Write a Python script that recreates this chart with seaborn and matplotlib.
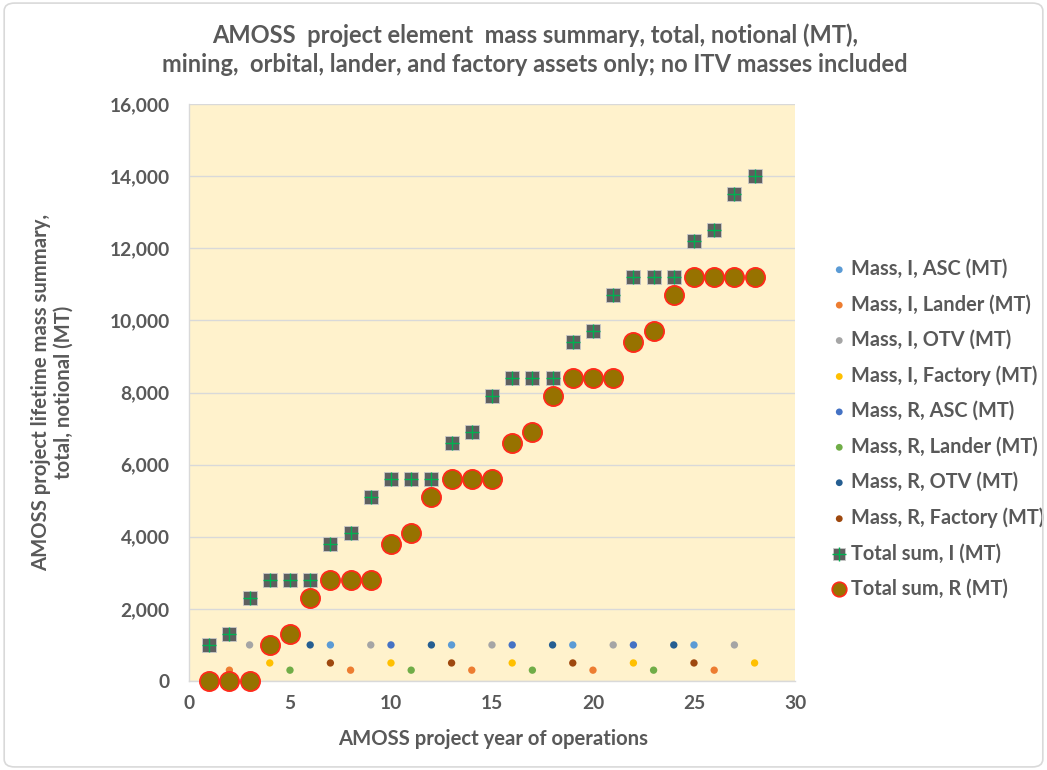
import matplotlib
matplotlib.use("Agg")
import matplotlib.pyplot as plt
import seaborn as sns
from matplotlib.patches import FancyBboxPatch
from matplotlib.ticker import FuncFormatter, MultipleLocator

# ------------------------------------------
# data
# ------------------------------------------
years = list(range(1, 29))

asc_i_x = [1, 7, 13, 19, 25]
asc_i_y = [1000, 1000, 1000, 1000, 1000]
lander_i_x = [2, 8, 14, 20, 26]
lander_i_y = [300, 300, 300, 300, 300]
otv_i_x = [3, 9, 15, 21, 27]
otv_i_y = [1000, 1000, 1000, 1000, 1000]
factory_i_x = [4, 10, 16, 22, 28]
factory_i_y = [500, 500, 500, 500, 500]

asc_r_x = [4, 10, 16, 22]
asc_r_y = [1000, 1000, 1000, 1000]
lander_r_x = [5, 11, 17, 23]
lander_r_y = [300, 300, 300, 300]
otv_r_x = [6, 12, 18, 24]
otv_r_y = [1000, 1000, 1000, 1000]
factory_r_x = [7, 13, 19, 25]
factory_r_y = [500, 500, 500, 500]

total_i = [1000, 1300, 2300, 2800, 2800, 2800, 3800, 4100, 5100, 5600,
           5600, 5600, 6600, 6900, 7900, 8400, 8400, 8400, 9400, 9700,
           10700, 11200, 11200, 11200, 12200, 12500, 13500, 14000]
total_r = [0, 0, 0, 1000, 1300, 2300, 2800, 2800, 2800, 3800,
           4100, 5100, 5600, 5600, 5600, 6600, 6900, 7900, 8400, 8400,
           8400, 9400, 9700, 10700, 11200, 11200, 11200, 11200]

small_series = [
    ("Mass, I, ASC (MT)", asc_i_x, asc_i_y, "#5B9BD5"),
    ("Mass, I, Lander (MT)", lander_i_x, lander_i_y, "#ED7D31"),
    ("Mass, I, OTV (MT)", otv_i_x, otv_i_y, "#A5A5A5"),
    ("Mass, I, Factory (MT)", factory_i_x, factory_i_y, "#FFC000"),
    ("Mass, R, ASC (MT)", asc_r_x, asc_r_y, "#4472C4"),
    ("Mass, R, Lander (MT)", lander_r_x, lander_r_y, "#70AD47"),
    ("Mass, R, OTV (MT)", otv_r_x, otv_r_y, "#255E91"),
    ("Mass, R, Factory (MT)", factory_r_x, factory_r_y, "#9E480E"),
]

# ------------------------------------------
# style
# ------------------------------------------
sns.set_style("white")
plt.rcParams["font.family"] = ["Lato", "DejaVu Sans"]
plt.rcParams["font.weight"] = "bold"
TXT = "#595959"

fig = plt.figure(figsize=(10.47, 7.7), dpi=100)
ax = fig.add_axes([0.1805, 0.1156, 0.5788, 0.7493])
ax.set_facecolor("#FFF2CC")

handles = []
for name, xs, ys, col in small_series:
    sns.scatterplot(x=xs, y=ys, ax=ax, color=col, s=28, edgecolor="none",
                    zorder=3)
    h = ax.scatter([], [], color=col, s=24, edgecolor="none")
    handles.append((h, name))

# Total I: grey square with a green cross
sns.scatterplot(x=years, y=total_i, ax=ax, marker="s", color="#5F5F5F",
                s=95, edgecolor="#C9C9C9", linewidth=0.6, zorder=4)
ax.scatter(years, total_i, marker="+", color="#00B050", s=110,
           linewidth=1.0, zorder=5)
hs = ax.scatter([], [], marker="s", color="#5F5F5F", s=80,
                edgecolor="#C9C9C9", linewidth=0.6)
hp = ax.scatter([], [], marker="+", color="#00B050", s=95, linewidth=1.0)
handles.append(((hs, hp), "Total sum, I (MT)"))

# Total R: olive circle with red edge
sns.scatterplot(x=years, y=total_r, ax=ax, marker="o", color="#977200",
                s=190, edgecolor="#FF2A1A", linewidth=1.3, zorder=6,
                clip_on=False)
hr = ax.scatter([], [], marker="o", color="#977200", s=110,
                edgecolor="#FF2A1A", linewidth=1.2)
handles.append((hr, "Total sum, R (MT)"))

ax.set_xlim(0, 30)
ax.set_ylim(0, 16000)
ax.xaxis.set_major_locator(MultipleLocator(5))
ax.yaxis.set_major_locator(MultipleLocator(2000))
ax.yaxis.set_major_formatter(FuncFormatter(lambda v, p: f"{int(v):,}"))
ax.grid(axis="y", color="#D9D9D9", linewidth=1.0, zorder=0)
ax.set_axisbelow(True)
for s in ["top", "right"]:
    ax.spines[s].set_visible(False)
for s in ["left", "bottom"]:
    ax.spines[s].set_color("#D9D9D9")
    ax.spines[s].set_linewidth(1.0)
ax.tick_params(axis="both", length=0, labelsize=13.8, labelcolor=TXT)
ax.tick_params(axis="y", pad=14)
ax.tick_params(axis="x", pad=10)
for lab in ax.get_xticklabels() + ax.get_yticklabels():
    lab.set_fontweight("bold")

ax.set_xlabel("AMOSS project year of operations", fontsize=14.6,
              color=TXT, fontweight="bold")
ax.xaxis.set_label_coords(0.5017, -0.083)
ax.set_ylabel("AMOSS project lifetime mass summary,\ntotal, notional (MT)",
              fontsize=14.6, color=TXT, fontweight="bold")
ax.yaxis.set_label_coords(-0.19, 0.5)

fig.text(0.511, 0.935,
         "AMOSS  project element  mass summary, total, notional (MT),\n"
         "mining,  orbital, lander, and factory assets only; no ITV masses included",
         ha="center", va="center", fontsize=17, color=TXT,
         fontweight="bold", linespacing=1.3)

leg = ax.legend([h for h, _ in handles], [n for _, n in handles],
                loc="center left", bbox_to_anchor=(1.045, 0.437),
                frameon=False, fontsize=14.4, labelspacing=0.77,
                handletextpad=0.15, handlelength=0.9, borderaxespad=0)
for t in leg.get_texts():
    t.set_color(TXT)
    t.set_fontweight("bold")

# light outer chart border like the spreadsheet frame
fig.patches.append(FancyBboxPatch((0.004, 0.004), 0.992, 0.992,
                                  boxstyle="round,pad=0,rounding_size=0.01",
                                  transform=fig.transFigure, fill=False,
                                  edgecolor="#D9D9D9", linewidth=1.2))

fig.savefig("out.png", dpi=100)
plt.close(fig)
